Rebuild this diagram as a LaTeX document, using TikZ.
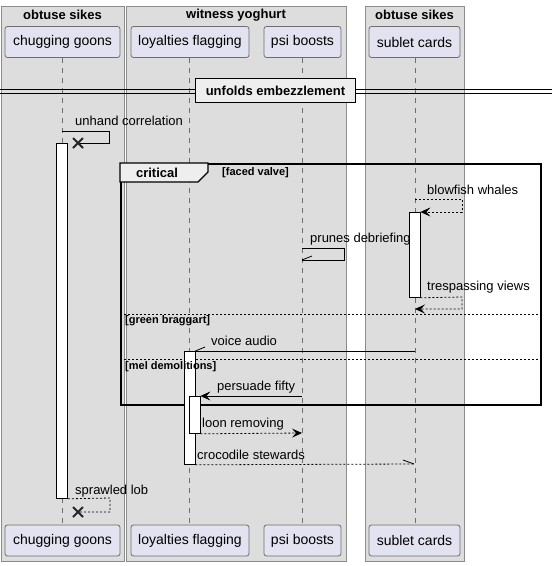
\documentclass[tikz,border=0pt]{standalone}
\usepackage{fontspec}
\setmainfont{Liberation Sans}
\usetikzlibrary{arrows.meta}
\definecolor{grpfill}{HTML}{DDDDDD}
\definecolor{grpline}{HTML}{8C8C8C}
\definecolor{partfill}{HTML}{E2E2F0}
\definecolor{partline}{HTML}{6E6E6E}
\definecolor{tabfill}{HTML}{EEEEEE}
\definecolor{lifegray}{HTML}{6E6E6E}
\tikzset{
 grp/.style={draw=grpline, fill=grpfill, line width=0.8pt},
 part/.style={draw=partline, fill=partfill, rounded corners=2.5pt, minimum height=31pt, inner sep=0pt, font=\fontsize{14}{16}\selectfont, line width=0.8pt},
 lifeline/.style={draw=lifegray, dash pattern=on 5pt off 5pt, line width=0.8pt},
 act/.style={draw=black, fill=white, minimum width=11pt, inner sep=0pt, line width=0.8pt, anchor=north},
 msg/.style={draw=black, line width=0.8pt},
 reply/.style={msg, dash pattern=on 2pt off 2pt},
 tip/.style={-{Stealth[length=10pt,width=9pt,inset=4pt]}},
 lbl/.style={anchor=west, inner sep=0pt, font=\fontsize{13}{15}\selectfont},
 grptitle/.style={font=\bfseries\fontsize{13}{15}\selectfont, inner sep=0pt},
 guard/.style={anchor=west, inner sep=0pt, font=\bfseries\fontsize{11}{13}\selectfont},
 xmark/.style={line width=1.8pt, draw=black!85},
 frameline/.style={draw=black, line width=1.5pt},
 sepline/.style={draw=black, line width=0.8pt, dash pattern=on 2pt off 2pt},
}
\begin{document}
\begin{tikzpicture}[x=1pt,y=-1pt]
\useasboundingbox (0,0) rectangle (556,566);
% group boxes
\node[grp, anchor=north west, minimum width=123pt, minimum height=555pt, inner sep=0pt] (g1) at (1,6) {};
\node[grp, anchor=north west, minimum width=220pt, minimum height=555pt, inner sep=0pt] (g2) at (126,6) {};
\node[grp, anchor=north west, minimum width=99pt, minimum height=555pt, inner sep=0pt] (g3) at (365,6) {};
\node[grptitle] (g1t) at (62.5,15) {obtuse sikes};
\node[grptitle] (g2t) at (236,15) {witness yoghurt};
\node[grptitle] (g3t) at (414.5,15) {obtuse sikes};
% participants
\node[part, minimum width=115pt] (cgA) at (62.5,42) {chugging goons};
\node[part, minimum width=118pt] (lfA) at (190,42) {loyalties flagging};
\node[part, minimum width=77pt] (pbA) at (302.5,42) {psi boosts};
\node[part, minimum width=91pt] (scA) at (414.5,42) {sublet cards};
\node[part, minimum width=115pt] (cgB) at (62.5,540.5) {chugging goons};
\node[part, minimum width=118pt] (lfB) at (190,540.5) {loyalties flagging};
\node[part, minimum width=77pt] (pbB) at (302.5,540.5) {psi boosts};
\node[part, minimum width=91pt] (scB) at (414.5,540.5) {sublet cards};
% lifelines
\coordinate (cgL1) at (62,57.5); \coordinate (cgL2) at (62,525);
\coordinate (lfL1) at (189,57.5); \coordinate (lfL2) at (189,525);
\coordinate (pbL1) at (302,57.5); \coordinate (pbL2) at (302,525);
\coordinate (scL1) at (415,57.5); \coordinate (scL2) at (415,525);
\draw[lifeline] (cgL1) -- (cgL2);
\draw[lifeline] (lfL1) -- (lfL2);
\draw[lifeline] (pbL1) -- (pbL2);
\draw[lifeline] (scL1) -- (scL2);
% divider
\coordinate (dvL) at (0,89); \coordinate (dvR) at (552,89);
\coordinate (dvL2) at (0,93); \coordinate (dvR2) at (552,93);
\draw[line width=0.9pt] (dvL) -- (dvR);
\draw[line width=0.9pt] (dvL2) -- (dvR2);
\node[draw=black, line width=1.8pt, fill=tabfill, minimum width=160pt, minimum height=24pt, inner sep=0pt, font=\bfseries\fontsize{13}{15}\selectfont] (div) at (275.5,90.5) {unfolds embezzlement};
% critical frame
\node[frameline, anchor=north west, minimum width=420pt, minimum height=241pt, inner sep=0pt] (frm) at (120,163) {};
\coordinate (tA) at (120,163); \coordinate (tB) at (208,163); \coordinate (tC) at (208,172);
\coordinate (tD) at (198,182); \coordinate (tE) at (120,182);
\draw[frameline, fill=tabfill, line width=1.2pt] (tA) -- (tB) -- (tC) -- (tD) -- (tE) -- cycle;
\node[grptitle] (crit) at (157,173) {critical};
\coordinate (s1L) at (120,314); \coordinate (s1R) at (540,314);
\coordinate (s2L) at (120,359); \coordinate (s2R) at (540,359);
\draw[sepline] (s1L) -- (s1R);
\draw[sepline] (s2L) -- (s2R);
% activation bars
\node[act, minimum height=355pt] (actcg) at (62,143) {};
\node[act, minimum height=85pt] (actsc) at (414.5,212) {};
\node[act, minimum height=113pt] (actlf) at (189.5,351) {};
\node[act, minimum height=37pt] (actlf2) at (194.5,396) {};
% guards
\node[guard] (gd1) at (222,173) {[faced valve]};
\node[guard] (gd2) at (125,321) {[green braggart]};
\node[guard] (gd3) at (125,367) {[mel demolitions]};
% 1 unhand correlation
\coordinate (m1a) at (62,131); \coordinate (m1b) at (109,131); \coordinate (m1c) at (109,143); \coordinate (m1x) at (78,143);
\draw[msg] (m1a) -- (m1b) -- (m1c) -- (m1x);
\draw[xmark] ([shift={(-5,-5)}]m1x) -- ([shift={(5,5)}]m1x);
\draw[xmark] ([shift={(-5,5)}]m1x) -- ([shift={(5,-5)}]m1x);
\node[lbl] (t1) at (75,121) {unhand correlation};
% 2 blowfish whales
\coordinate (m2a) at (415,199); \coordinate (m2b) at (462,199); \coordinate (m2c) at (462,212);
\draw[reply, tip] (m2a) -- (m2b) -- (m2c) -- (actsc.north east);
\node[lbl] (t2) at (427,190) {blowfish whales};
% 3 prunes debriefing
\coordinate (m3a) at (302,248); \coordinate (m3b) at (344,248); \coordinate (m3c) at (344,260); \coordinate (m3d) at (302,260); \coordinate (m3h) at (312,256);
\draw[msg] (m3a) -- (m3b) -- (m3c) -- (m3d);
\draw[msg] (m3d) -- (m3h);
\node[lbl] (t3) at (310,239) {prunes debriefing};
% 4 trespassing views
\coordinate (m4b) at (462,297); \coordinate (m4c) at (462,309); \coordinate (m4d) at (415,309);
\draw[reply, tip] (actsc.south east) -- (m4b) -- (m4c) -- (m4d);
\node[lbl] (t4) at (427,287) {trespassing views};
% 5 voice audio
\coordinate (m5a) at (415,351); \coordinate (m5h) at (205,347);
\draw[msg] (m5a) -- (actlf.north east);
\draw[msg] (actlf.north east) -- (m5h);
\node[lbl] (t5) at (211,341) {voice audio};
% 6 persuade fifty
\coordinate (m6a) at (302,396);
\draw[msg, tip] (m6a) -- (actlf2.north east);
\node[lbl] (t6) at (217,387) {persuade fifty};
% 7 loon removing
\coordinate (m7b) at (302,433);
\draw[reply, tip] (actlf2.south east) -- (m7b);
\node[lbl] (t7) at (202,424) {loon removing};
% 8 crocodile stewards
\coordinate (m8b) at (414,464); \coordinate (m8h) at (403,460);
\draw[reply] (actlf.south east) -- (m8b);
\draw[msg] (m8b) -- (m8h);
\node[lbl] (t8) at (197,455) {crocodile stewards};
% 9 sprawled lob
\coordinate (m9b) at (110,498); \coordinate (m9c) at (110,512); \coordinate (m9x) at (78,512);
\draw[reply] (actcg.south east) -- (m9b) -- (m9c) -- (m9x);
\draw[xmark] ([shift={(-5,-5)}]m9x) -- ([shift={(5,5)}]m9x);
\draw[xmark] ([shift={(-5,5)}]m9x) -- ([shift={(5,-5)}]m9x);
\node[lbl] (t9) at (75,491) {sprawled lob};
\end{tikzpicture}
\end{document}
